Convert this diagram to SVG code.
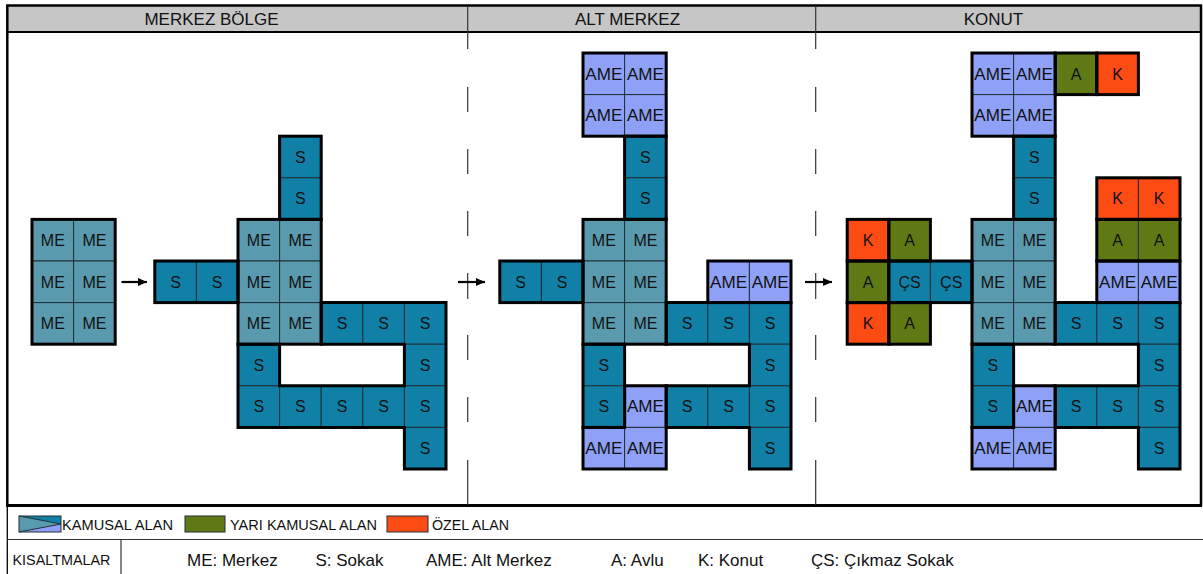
<svg xmlns="http://www.w3.org/2000/svg" width="1203" height="574" viewBox="0 0 1203 574">
<style>
.me{fill:#5a9aae}.s{fill:#1180a6}.ame{fill:#8fa1f6}.a{fill:#5f7a14}.k{fill:#fd4b14}
rect.c{stroke:#1e2e38;stroke-width:1}
text{font-family:"Liberation Sans",Arial,sans-serif;fill:#111}
text.t{font-size:16px;text-anchor:middle}
text.h{font-size:17px;text-anchor:middle}
text.l{font-size:14px}
text.b{font-size:17px}
.ol{fill:none;stroke:#000;stroke-width:3;stroke-linejoin:miter}
.dv{fill:none;stroke:#333;stroke-width:1.2}
</style>
<defs>
<marker id="ah" markerUnits="userSpaceOnUse" markerWidth="9" markerHeight="8" refX="9" refY="4" orient="auto"><path d="M0,0 L9,4 L0,8 Z" fill="#000"/></marker>
</defs>
<rect x="0" y="0" width="1203" height="574" fill="#fff"/>
<g id="frame">
<rect x="7" y="6" width="1194" height="26" fill="#c6c6c6"/>
<line x1="6" y1="5.5" x2="1202" y2="5.5" stroke="#000" stroke-width="2.5"/>
<line x1="6" y1="32" x2="1202" y2="32" stroke="#000" stroke-width="2.2"/>
<line x1="7.3" y1="5" x2="7.3" y2="506" stroke="#000" stroke-width="2.5"/>
<line x1="7.3" y1="506" x2="7.3" y2="574" stroke="#000" stroke-width="1.3"/>
<line x1="1201" y1="5" x2="1201" y2="506" stroke="#000" stroke-width="2.5"/>
<line x1="6" y1="505.5" x2="1202" y2="505.5" stroke="#000" stroke-width="3"/>
<line x1="7" y1="539.5" x2="1203" y2="539.5" stroke="#333" stroke-width="1.2"/>
<line x1="121" y1="539.5" x2="121" y2="574" stroke="#333" stroke-width="1.2"/>
<line x1="467.7" y1="6" x2="467.7" y2="32" class="dv"/>
<line x1="815.7" y1="6" x2="815.7" y2="32" class="dv"/>
<path class="dv" d="M467.7,32V49M467.7,87V112M467.7,149V174M467.7,211V236M467.7,273V299M467.7,335V360M467.7,397V422M467.7,460V505"/>
<path class="dv" d="M815.7,32V49M815.7,87V112M815.7,149V174M815.7,211V236M815.7,273V299M815.7,335V360M815.7,397V422M815.7,460V505"/>
<text class="h" x="211.5" y="25">MERKEZ BÖLGE</text>
<text class="h" x="627.5" y="25">ALT MERKEZ</text>
<text class="h" x="993.5" y="25">KONUT</text>
</g>

<g id="panel1">
<g id="p1-me-a1"><rect class="c me" x="32" y="219.4" width="41.6" height="41.6"/><text class="t" x="52.8" y="245.9">ME</text></g>
<g id="p1-me-a2"><rect class="c me" x="73.6" y="219.4" width="41.6" height="41.6"/><text class="t" x="94.4" y="245.9">ME</text></g>
<g id="p1-me-a3"><rect class="c me" x="32" y="261" width="41.6" height="41.6"/><text class="t" x="52.8" y="287.5">ME</text></g>
<g id="p1-me-a4"><rect class="c me" x="73.6" y="261" width="41.6" height="41.6"/><text class="t" x="94.4" y="287.5">ME</text></g>
<g id="p1-me-a5"><rect class="c me" x="32" y="302.6" width="41.6" height="41.6"/><text class="t" x="52.8" y="329.1">ME</text></g>
<g id="p1-me-a6"><rect class="c me" x="73.6" y="302.6" width="41.6" height="41.6"/><text class="t" x="94.4" y="329.1">ME</text></g>

<g id="p1-s1"><rect class="c s" x="279.6" y="136.2" width="41.6" height="41.6"/><text class="t" x="300.4" y="162.7">S</text></g>
<g id="p1-s2"><rect class="c s" x="279.6" y="177.8" width="41.6" height="41.6"/><text class="t" x="300.4" y="204.3">S</text></g>
<g id="p1-me1"><rect class="c me" x="238" y="219.4" width="41.6" height="41.6"/><text class="t" x="258.8" y="245.9">ME</text></g>
<g id="p1-me2"><rect class="c me" x="279.6" y="219.4" width="41.6" height="41.6"/><text class="t" x="300.4" y="245.9">ME</text></g>
<g id="p1-s3"><rect class="c s" x="154.8" y="261" width="41.6" height="41.6"/><text class="t" x="175.6" y="287.5">S</text></g>
<g id="p1-s4"><rect class="c s" x="196.4" y="261" width="41.6" height="41.6"/><text class="t" x="217.2" y="287.5">S</text></g>
<g id="p1-me3"><rect class="c me" x="238" y="261" width="41.6" height="41.6"/><text class="t" x="258.8" y="287.5">ME</text></g>
<g id="p1-me4"><rect class="c me" x="279.6" y="261" width="41.6" height="41.6"/><text class="t" x="300.4" y="287.5">ME</text></g>
<g id="p1-me5"><rect class="c me" x="238" y="302.6" width="41.6" height="41.6"/><text class="t" x="258.8" y="329.1">ME</text></g>
<g id="p1-me6"><rect class="c me" x="279.6" y="302.6" width="41.6" height="41.6"/><text class="t" x="300.4" y="329.1">ME</text></g>
<g id="p1-s5"><rect class="c s" x="321.2" y="302.6" width="41.6" height="41.6"/><text class="t" x="342" y="329.1">S</text></g>
<g id="p1-s6"><rect class="c s" x="362.8" y="302.6" width="41.6" height="41.6"/><text class="t" x="383.6" y="329.1">S</text></g>
<g id="p1-s7"><rect class="c s" x="404.4" y="302.6" width="41.6" height="41.6"/><text class="t" x="425.2" y="329.1">S</text></g>
<g id="p1-s8"><rect class="c s" x="238" y="344.2" width="41.6" height="41.6"/><text class="t" x="258.8" y="370.7">S</text></g>
<g id="p1-s9"><rect class="c s" x="404.4" y="344.2" width="41.6" height="41.6"/><text class="t" x="425.2" y="370.7">S</text></g>
<g id="p1-s10"><rect class="c s" x="238" y="385.8" width="41.6" height="41.6"/><text class="t" x="258.8" y="412.3">S</text></g>
<g id="p1-s11"><rect class="c s" x="279.6" y="385.8" width="41.6" height="41.6"/><text class="t" x="300.4" y="412.3">S</text></g>
<g id="p1-s12"><rect class="c s" x="321.2" y="385.8" width="41.6" height="41.6"/><text class="t" x="342" y="412.3">S</text></g>
<g id="p1-s13"><rect class="c s" x="362.8" y="385.8" width="41.6" height="41.6"/><text class="t" x="383.6" y="412.3">S</text></g>
<g id="p1-s14"><rect class="c s" x="404.4" y="385.8" width="41.6" height="41.6"/><text class="t" x="425.2" y="412.3">S</text></g>
<g id="p1-s15"><rect class="c s" x="404.4" y="427.4" width="41.6" height="41.6"/><text class="t" x="425.2" y="453.9">S</text></g>
</g>

<g id="panel2">
<g id="p2-ame1"><rect class="c ame" x="583" y="53" width="41.6" height="41.6"/><text class="t" x="603.8" y="79.5" textLength="37" lengthAdjust="spacingAndGlyphs">AME</text></g>
<g id="p2-ame2"><rect class="c ame" x="624.6" y="53" width="41.6" height="41.6"/><text class="t" x="645.4" y="79.5" textLength="37" lengthAdjust="spacingAndGlyphs">AME</text></g>
<g id="p2-ame3"><rect class="c ame" x="583" y="94.6" width="41.6" height="41.6"/><text class="t" x="603.8" y="121.1" textLength="37" lengthAdjust="spacingAndGlyphs">AME</text></g>
<g id="p2-ame4"><rect class="c ame" x="624.6" y="94.6" width="41.6" height="41.6"/><text class="t" x="645.4" y="121.1" textLength="37" lengthAdjust="spacingAndGlyphs">AME</text></g>
<g id="p2-s1"><rect class="c s" x="624.6" y="136.2" width="41.6" height="41.6"/><text class="t" x="645.4" y="162.7">S</text></g>
<g id="p2-s2"><rect class="c s" x="624.6" y="177.8" width="41.6" height="41.6"/><text class="t" x="645.4" y="204.3">S</text></g>
<g id="p2-me1"><rect class="c me" x="583" y="219.4" width="41.6" height="41.6"/><text class="t" x="603.8" y="245.9">ME</text></g>
<g id="p2-me2"><rect class="c me" x="624.6" y="219.4" width="41.6" height="41.6"/><text class="t" x="645.4" y="245.9">ME</text></g>
<g id="p2-s3"><rect class="c s" x="499.8" y="261" width="41.6" height="41.6"/><text class="t" x="520.6" y="287.5">S</text></g>
<g id="p2-s4"><rect class="c s" x="541.4" y="261" width="41.6" height="41.6"/><text class="t" x="562.2" y="287.5">S</text></g>
<g id="p2-me3"><rect class="c me" x="583" y="261" width="41.6" height="41.6"/><text class="t" x="603.8" y="287.5">ME</text></g>
<g id="p2-me4"><rect class="c me" x="624.6" y="261" width="41.6" height="41.6"/><text class="t" x="645.4" y="287.5">ME</text></g>
<g id="p2-ame5"><rect class="c ame" x="707.8" y="261" width="41.6" height="41.6"/><text class="t" x="728.6" y="287.5" textLength="37" lengthAdjust="spacingAndGlyphs">AME</text></g>
<g id="p2-ame6"><rect class="c ame" x="749.4" y="261" width="41.6" height="41.6"/><text class="t" x="770.2" y="287.5" textLength="37" lengthAdjust="spacingAndGlyphs">AME</text></g>
<g id="p2-me5"><rect class="c me" x="583" y="302.6" width="41.6" height="41.6"/><text class="t" x="603.8" y="329.1">ME</text></g>
<g id="p2-me6"><rect class="c me" x="624.6" y="302.6" width="41.6" height="41.6"/><text class="t" x="645.4" y="329.1">ME</text></g>
<g id="p2-s5"><rect class="c s" x="666.2" y="302.6" width="41.6" height="41.6"/><text class="t" x="687" y="329.1">S</text></g>
<g id="p2-s6"><rect class="c s" x="707.8" y="302.6" width="41.6" height="41.6"/><text class="t" x="728.6" y="329.1">S</text></g>
<g id="p2-s7"><rect class="c s" x="749.4" y="302.6" width="41.6" height="41.6"/><text class="t" x="770.2" y="329.1">S</text></g>
<g id="p2-s8"><rect class="c s" x="583" y="344.2" width="41.6" height="41.6"/><text class="t" x="603.8" y="370.7">S</text></g>
<g id="p2-s9"><rect class="c s" x="749.4" y="344.2" width="41.6" height="41.6"/><text class="t" x="770.2" y="370.7">S</text></g>
<g id="p2-s10"><rect class="c s" x="583" y="385.8" width="41.6" height="41.6"/><text class="t" x="603.8" y="412.3">S</text></g>
<g id="p2-ame7"><rect class="c ame" x="624.6" y="385.8" width="41.6" height="41.6"/><text class="t" x="645.4" y="412.3" textLength="37" lengthAdjust="spacingAndGlyphs">AME</text></g>
<g id="p2-s11"><rect class="c s" x="666.2" y="385.8" width="41.6" height="41.6"/><text class="t" x="687" y="412.3">S</text></g>
<g id="p2-s12"><rect class="c s" x="707.8" y="385.8" width="41.6" height="41.6"/><text class="t" x="728.6" y="412.3">S</text></g>
<g id="p2-s13"><rect class="c s" x="749.4" y="385.8" width="41.6" height="41.6"/><text class="t" x="770.2" y="412.3">S</text></g>
<g id="p2-ame8"><rect class="c ame" x="583" y="427.4" width="41.6" height="41.6"/><text class="t" x="603.8" y="453.9" textLength="37" lengthAdjust="spacingAndGlyphs">AME</text></g>
<g id="p2-ame9"><rect class="c ame" x="624.6" y="427.4" width="41.6" height="41.6"/><text class="t" x="645.4" y="453.9" textLength="37" lengthAdjust="spacingAndGlyphs">AME</text></g>
<g id="p2-s14"><rect class="c s" x="749.4" y="427.4" width="41.6" height="41.6"/><text class="t" x="770.2" y="453.9">S</text></g>
</g>

<g id="panel3">
<g id="p3-ame1"><rect class="c ame" x="972" y="53" width="41.6" height="41.6"/><text class="t" x="992.8" y="79.5" textLength="37" lengthAdjust="spacingAndGlyphs">AME</text></g>
<g id="p3-ame2"><rect class="c ame" x="1013.6" y="53" width="41.6" height="41.6"/><text class="t" x="1034.4" y="79.5" textLength="37" lengthAdjust="spacingAndGlyphs">AME</text></g>
<g id="p3-a1"><rect class="c a" x="1055.2" y="53" width="41.6" height="41.6"/><text class="t" x="1076" y="79.5">A</text></g>
<g id="p3-k1"><rect class="c k" x="1096.8" y="53" width="41.6" height="41.6"/><text class="t" x="1117.6" y="79.5">K</text></g>
<g id="p3-ame3"><rect class="c ame" x="972" y="94.6" width="41.6" height="41.6"/><text class="t" x="992.8" y="121.1" textLength="37" lengthAdjust="spacingAndGlyphs">AME</text></g>
<g id="p3-ame4"><rect class="c ame" x="1013.6" y="94.6" width="41.6" height="41.6"/><text class="t" x="1034.4" y="121.1" textLength="37" lengthAdjust="spacingAndGlyphs">AME</text></g>
<g id="p3-s1"><rect class="c s" x="1013.6" y="136.2" width="41.6" height="41.6"/><text class="t" x="1034.4" y="162.7">S</text></g>
<g id="p3-s2"><rect class="c s" x="1013.6" y="177.8" width="41.6" height="41.6"/><text class="t" x="1034.4" y="204.3">S</text></g>
<g id="p3-k2"><rect class="c k" x="1096.8" y="177.8" width="41.6" height="41.6"/><text class="t" x="1117.6" y="204.3">K</text></g>
<g id="p3-k3"><rect class="c k" x="1138.4" y="177.8" width="41.6" height="41.6"/><text class="t" x="1159.2" y="204.3">K</text></g>
<g id="p3-k4"><rect class="c k" x="847.2" y="219.4" width="41.6" height="41.6"/><text class="t" x="868" y="245.9">K</text></g>
<g id="p3-a2"><rect class="c a" x="888.8" y="219.4" width="41.6" height="41.6"/><text class="t" x="909.6" y="245.9">A</text></g>
<g id="p3-me1"><rect class="c me" x="972" y="219.4" width="41.6" height="41.6"/><text class="t" x="992.8" y="245.9">ME</text></g>
<g id="p3-me2"><rect class="c me" x="1013.6" y="219.4" width="41.6" height="41.6"/><text class="t" x="1034.4" y="245.9">ME</text></g>
<g id="p3-a3"><rect class="c a" x="1096.8" y="219.4" width="41.6" height="41.6"/><text class="t" x="1117.6" y="245.9">A</text></g>
<g id="p3-a4"><rect class="c a" x="1138.4" y="219.4" width="41.6" height="41.6"/><text class="t" x="1159.2" y="245.9">A</text></g>
<g id="p3-a5"><rect class="c a" x="847.2" y="261" width="41.6" height="41.6"/><text class="t" x="868" y="287.5">A</text></g>
<g id="p3-cs1"><rect class="c s" x="888.8" y="261" width="41.6" height="41.6"/><text class="t" x="909.6" y="287.5">ÇS</text></g>
<g id="p3-cs2"><rect class="c s" x="930.4" y="261" width="41.6" height="41.6"/><text class="t" x="951.2" y="287.5">ÇS</text></g>
<g id="p3-me3"><rect class="c me" x="972" y="261" width="41.6" height="41.6"/><text class="t" x="992.8" y="287.5">ME</text></g>
<g id="p3-me4"><rect class="c me" x="1013.6" y="261" width="41.6" height="41.6"/><text class="t" x="1034.4" y="287.5">ME</text></g>
<g id="p3-ame5"><rect class="c ame" x="1096.8" y="261" width="41.6" height="41.6"/><text class="t" x="1117.6" y="287.5" textLength="37" lengthAdjust="spacingAndGlyphs">AME</text></g>
<g id="p3-ame6"><rect class="c ame" x="1138.4" y="261" width="41.6" height="41.6"/><text class="t" x="1159.2" y="287.5" textLength="37" lengthAdjust="spacingAndGlyphs">AME</text></g>
<g id="p3-k5"><rect class="c k" x="847.2" y="302.6" width="41.6" height="41.6"/><text class="t" x="868" y="329.1">K</text></g>
<g id="p3-a6"><rect class="c a" x="888.8" y="302.6" width="41.6" height="41.6"/><text class="t" x="909.6" y="329.1">A</text></g>
<g id="p3-me5"><rect class="c me" x="972" y="302.6" width="41.6" height="41.6"/><text class="t" x="992.8" y="329.1">ME</text></g>
<g id="p3-me6"><rect class="c me" x="1013.6" y="302.6" width="41.6" height="41.6"/><text class="t" x="1034.4" y="329.1">ME</text></g>
<g id="p3-s3"><rect class="c s" x="1055.2" y="302.6" width="41.6" height="41.6"/><text class="t" x="1076" y="329.1">S</text></g>
<g id="p3-s4"><rect class="c s" x="1096.8" y="302.6" width="41.6" height="41.6"/><text class="t" x="1117.6" y="329.1">S</text></g>
<g id="p3-s5"><rect class="c s" x="1138.4" y="302.6" width="41.6" height="41.6"/><text class="t" x="1159.2" y="329.1">S</text></g>
<g id="p3-s6"><rect class="c s" x="972" y="344.2" width="41.6" height="41.6"/><text class="t" x="992.8" y="370.7">S</text></g>
<g id="p3-s7"><rect class="c s" x="1138.4" y="344.2" width="41.6" height="41.6"/><text class="t" x="1159.2" y="370.7">S</text></g>
<g id="p3-s8"><rect class="c s" x="972" y="385.8" width="41.6" height="41.6"/><text class="t" x="992.8" y="412.3">S</text></g>
<g id="p3-ame7"><rect class="c ame" x="1013.6" y="385.8" width="41.6" height="41.6"/><text class="t" x="1034.4" y="412.3" textLength="37" lengthAdjust="spacingAndGlyphs">AME</text></g>
<g id="p3-s9"><rect class="c s" x="1055.2" y="385.8" width="41.6" height="41.6"/><text class="t" x="1076" y="412.3">S</text></g>
<g id="p3-s10"><rect class="c s" x="1096.8" y="385.8" width="41.6" height="41.6"/><text class="t" x="1117.6" y="412.3">S</text></g>
<g id="p3-s11"><rect class="c s" x="1138.4" y="385.8" width="41.6" height="41.6"/><text class="t" x="1159.2" y="412.3">S</text></g>
<g id="p3-ame8"><rect class="c ame" x="972" y="427.4" width="41.6" height="41.6"/><text class="t" x="992.8" y="453.9" textLength="37" lengthAdjust="spacingAndGlyphs">AME</text></g>
<g id="p3-ame9"><rect class="c ame" x="1013.6" y="427.4" width="41.6" height="41.6"/><text class="t" x="1034.4" y="453.9" textLength="37" lengthAdjust="spacingAndGlyphs">AME</text></g>
<g id="p3-s12"><rect class="c s" x="1138.4" y="427.4" width="41.6" height="41.6"/><text class="t" x="1159.2" y="453.9">S</text></g>
</g>

<g id="outlines">
<rect class="ol" x="32" y="219.4" width="83.2" height="124.8"/>
<rect class="ol" x="279.6" y="136.2" width="41.6" height="83.2"/>
<rect class="ol" x="238" y="219.4" width="83.2" height="124.8"/>
<rect class="ol" x="154.8" y="261" width="83.2" height="41.6"/>
<path class="ol" d="M321.2,302.6H446V469H404.4V427.4H238V344.2H279.6V385.8H404.4V344.2H321.2Z"/>

<rect class="ol" x="583" y="53" width="83.2" height="83.2"/>
<rect class="ol" x="624.6" y="136.2" width="41.6" height="83.2"/>
<rect class="ol" x="583" y="219.4" width="83.2" height="124.8"/>
<rect class="ol" x="499.8" y="261" width="83.2" height="41.6"/>
<rect class="ol" x="707.8" y="261" width="83.2" height="41.6"/>
<path class="ol" d="M666.2,302.6H791V469H749.4V427.4H666.2V385.8H749.4V344.2H666.2Z"/>
<rect class="ol" x="583" y="344.2" width="41.6" height="83.2"/>
<path class="ol" d="M624.6,385.8H666.2V469H583V427.4H624.6Z"/>

<rect class="ol" x="972" y="53" width="83.2" height="83.2"/>
<rect class="ol" x="1055.2" y="53" width="41.6" height="41.6"/>
<rect class="ol" x="1096.8" y="53" width="41.6" height="41.6"/>
<rect class="ol" x="1013.6" y="136.2" width="41.6" height="83.2"/>
<rect class="ol" x="1096.8" y="177.8" width="83.2" height="41.6"/>
<rect class="ol" x="1096.8" y="219.4" width="83.2" height="41.6"/>
<rect class="ol" x="1096.8" y="261" width="83.2" height="41.6"/>
<rect class="ol" x="847.2" y="219.4" width="41.6" height="41.6"/>
<rect class="ol" x="888.8" y="219.4" width="41.6" height="41.6"/>
<rect class="ol" x="847.2" y="261" width="41.6" height="41.6"/>
<rect class="ol" x="888.8" y="261" width="83.2" height="41.6"/>
<rect class="ol" x="847.2" y="302.6" width="41.6" height="41.6"/>
<rect class="ol" x="888.8" y="302.6" width="41.6" height="41.6"/>
<rect class="ol" x="972" y="219.4" width="83.2" height="124.8"/>
<path class="ol" d="M1055.2,302.6H1180V469H1138.4V427.4H1055.2V385.8H1138.4V344.2H1055.2Z"/>
<rect class="ol" x="972" y="344.2" width="41.6" height="83.2"/>
<path class="ol" d="M1013.6,385.8H1055.2V469H972V427.4H1013.6Z"/>
</g>

<g id="connectors">
<line x1="121.5" y1="282" x2="147" y2="282" stroke="#000" stroke-width="2.2" marker-end="url(#ah)"/>
<line x1="458" y1="282" x2="485" y2="282" stroke="#000" stroke-width="2.2" marker-end="url(#ah)"/>
<line x1="805" y1="282" x2="832" y2="282" stroke="#000" stroke-width="2.2" marker-end="url(#ah)"/>
</g>

<g id="legend">
<g id="leg-kamusal">
<polygon points="19,516 61,516 61,524" class="s"/>
<polygon points="19,516 61,524 19,532" class="me"/>
<polygon points="19,532 61,524 61,532" class="ame"/>
<polyline points="19,516 61,524 19,532" fill="none" stroke="#1e2e38" stroke-width="1"/>
<rect x="19" y="516" width="42" height="16" fill="none" stroke="#1e2e38" stroke-width="1"/>
<text class="l" x="62" y="530" textLength="111" lengthAdjust="spacingAndGlyphs">KAMUSAL ALAN</text>
</g>
<g id="leg-yari">
<rect x="185" y="516" width="40" height="16" class="a" stroke="#1e2e38" stroke-width="1"/>
<text class="l" x="230" y="530" textLength="147" lengthAdjust="spacingAndGlyphs">YARI KAMUSAL ALAN</text>
</g>
<g id="leg-ozel">
<rect x="387" y="516" width="41" height="16" class="k" stroke="#1e2e38" stroke-width="1"/>
<text class="l" x="432" y="530" textLength="77" lengthAdjust="spacingAndGlyphs">ÖZEL ALAN</text>
</g>
<text class="l" x="12.5" y="565" textLength="98" lengthAdjust="spacingAndGlyphs">KISALTMALAR</text>
<text class="b" x="187" y="565.5">ME: Merkez</text>
<text class="b" x="315.5" y="565.5">S: Sokak</text>
<text class="b" x="426" y="565.5">AME: Alt Merkez</text>
<text class="b" x="611" y="565.5">A: Avlu</text>
<text class="b" x="698" y="565.5">K: Konut</text>
<text class="b" x="811" y="565.5">ÇS: Çıkmaz Sokak</text>
</g>
</svg>
